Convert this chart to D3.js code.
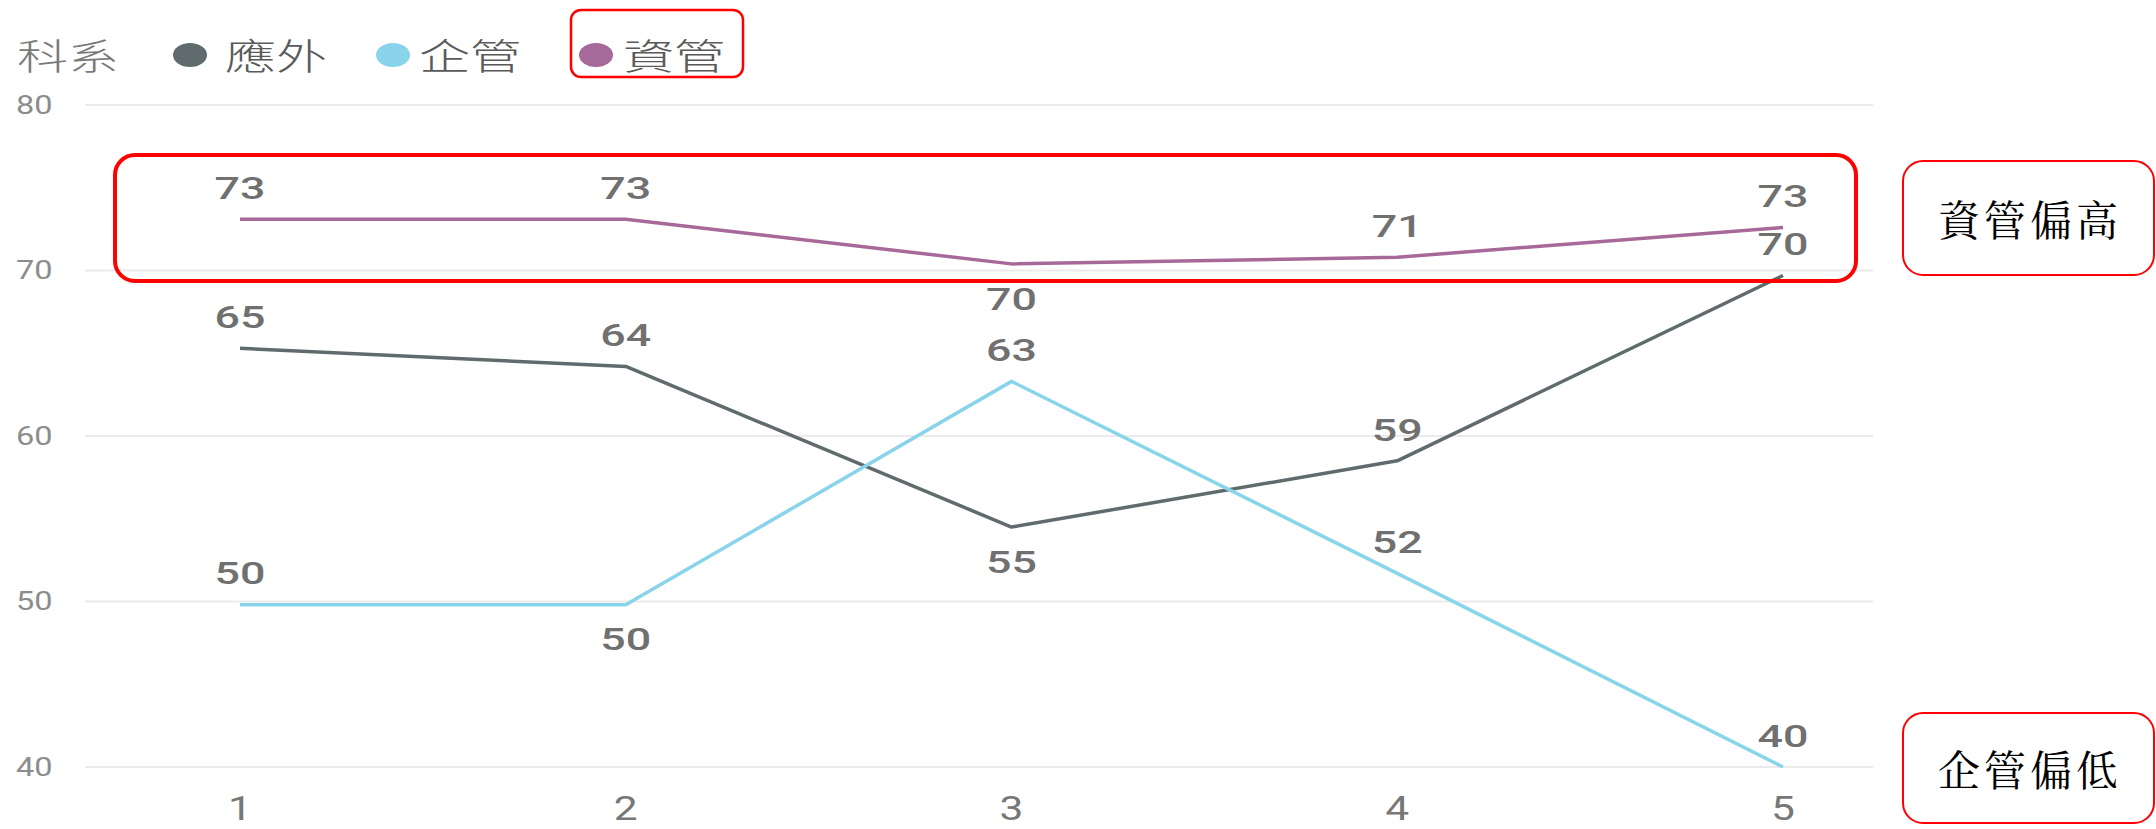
<!DOCTYPE html>
<html>
<head>
<meta charset="utf-8">
<script src="https://cdn.jsdelivr.net/npm/d3@7"></script>
<style>
  html, body { margin: 0; padding: 0; background: #fff; }
  svg { display: block; }
</style>
</head>
<body>
<svg id="chart" width="2156" height="829"></svg>
<script>
// data
const categories = [1, 2, 3, 4, 5];
const seriesNames = ['應外', '企管', '資管'];
const yingWai = [65.3, 64.2, 54.5, 58.5, 69.7];
const qiGuan = [49.8, 49.8, 63.3, 51.7, 40.0];
const ziGuan = [73.1, 73.1, 70.4, 70.8, 72.6];
const yTicks = [40, 50, 60, 70, 80];
const legendTitle = '科系';
const noteHigh = '資管偏高';
const noteLow = '企管偏低';

// where each value label sits, relative to its point
const labelSide = [
  ['up', 'up', 'down', 'up', 'up'],
  ['up', 'down', 'up', 'up', 'up'],
  ['up', 'up', 'down', 'up', 'up']
];

const colors = ['#5F6B6D', '#8AD4EB', '#A66999'];
const seriesValues = [yingWai, qiGuan, ziGuan];

const svg = d3.select('#chart');
const W = 2156, H = 829;
svg.append('rect').attr('width', W).attr('height', H).attr('fill', '#fff');

const plotLeft = 85, plotRight = 1873;

const x = d3.scaleLinear().domain([1, 5]).range([240, 1783]);
const y = d3.scaleLinear().domain([40, 80]).range([767, 105]);

// stretched text, the source image was widened
function stretched(sel, sx) {
  return sel.attr('transform', function () {
    const d = d3.select(this);
    return 'translate(' + d.attr('data-x') + ',' + d.attr('data-y') + ') scale(' + sx + ',1)';
  });
}

// gridlines
svg.append('g')
  .selectAll('line')
  .data(yTicks)
  .enter().append('line')
  .attr('x1', plotLeft)
  .attr('x2', plotRight)
  .attr('y1', d => y(d))
  .attr('y2', d => y(d))
  .attr('stroke', '#ebebeb')
  .attr('stroke-width', 2);

// y tick labels
svg.append('g')
  .selectAll('text')
  .data(yTicks)
  .enter().append('text')
  .attr('data-x', 16)
  .attr('data-y', d => y(d))
  .attr('dominant-baseline', 'central')
  .attr('font-family', 'Roboto, "Open Sans", sans-serif')
  .attr('font-size', 26)
  .attr('fill', '#8c8c8c')
  .text(d => d)
  .call(stretched, 1.25);

// x tick labels
svg.append('g')
  .selectAll('text')
  .data(categories)
  .enter().append('text')
  .attr('data-x', d => x(d))
  .attr('data-y', 820)
  .attr('text-anchor', 'middle')
  .attr('font-family', 'Roboto, "Open Sans", sans-serif')
  .attr('font-size', 34)
  .attr('fill', '#777')
  .text(d => d)
  .call(stretched, 1.25);

// lines
const line = d3.line()
  .x((d, i) => x(categories[i]))
  .y(d => y(d));

svg.append('g')
  .selectAll('path')
  .data(seriesValues)
  .enter().append('path')
  .attr('d', d => line(d))
  .attr('fill', 'none')
  .attr('stroke', (d, i) => colors[i])
  .attr('stroke-width', 3.5)
  .attr('stroke-linejoin', 'round');

// value labels
seriesValues.forEach(function (vals, s) {
  svg.append('g')
    .selectAll('text')
    .data(vals)
    .enter().append('text')
    .attr('data-x', (d, i) => x(categories[i]))
    .attr('data-y', (d, i) => y(d) + (labelSide[s][i] === 'up' ? -31 : 35))
    .attr('text-anchor', 'middle')
    .attr('dominant-baseline', 'central')
    .attr('font-family', 'Roboto, "Open Sans", sans-serif')
    .attr('font-weight', 500)
    .attr('font-size', 32)
    .attr('fill', '#707070')
    .text(d => Math.round(d))
    .call(stretched, 1.4);
});

// legend
const legend = svg.append('g');
legend.append('text')
  .attr('data-x', 17)
  .attr('data-y', 55)
  .attr('dominant-baseline', 'central')
  .attr('font-family', '"Noto Sans CJK TC", sans-serif')
  .attr('font-weight', 300)
  .attr('font-size', 36)
  .attr('fill', '#7a7a7a')
  .text(legendTitle)
  .call(stretched, 1.42);

const legendDotX = [190, 393, 596];
const legendTextX = [225, 419, 623];
legend.selectAll('ellipse')
  .data(seriesNames)
  .enter().append('ellipse')
  .attr('cx', (d, i) => legendDotX[i])
  .attr('cy', 55)
  .attr('rx', 17)
  .attr('ry', 12)
  .attr('fill', (d, i) => colors[i]);

legend.selectAll('text.name')
  .data(seriesNames)
  .enter().append('text')
  .attr('class', 'name')
  .attr('data-x', (d, i) => legendTextX[i])
  .attr('data-y', 55)
  .attr('dominant-baseline', 'central')
  .attr('font-family', '"Noto Sans CJK TC", sans-serif')
  .attr('font-weight', 300)
  .attr('font-size', 36)
  .attr('fill', '#5a5a5a')
  .text(d => d)
  .call(stretched, 1.42);

// red annotation boxes
svg.append('rect')
  .attr('x', 571).attr('y', 10).attr('width', 172).attr('height', 67)
  .attr('rx', 10)
  .attr('fill', 'none').attr('stroke', '#f00').attr('stroke-width', 2.5);

svg.append('rect')
  .attr('x', 115).attr('y', 155).attr('width', 1741).attr('height', 126)
  .attr('rx', 20)
  .attr('fill', 'none').attr('stroke', '#f00').attr('stroke-width', 4);

const notes = [
  { text: noteHigh, y0: 161, y1: 275 },
  { text: noteLow, y0: 713, y1: 823 }
];
const noteG = svg.append('g');
noteG.selectAll('rect')
  .data(notes)
  .enter().append('rect')
  .attr('x', 1903)
  .attr('y', d => d.y0)
  .attr('width', 251)
  .attr('height', d => d.y1 - d.y0)
  .attr('rx', 20)
  .attr('fill', '#fff')
  .attr('stroke', '#f00')
  .attr('stroke-width', 2);

noteG.selectAll('text')
  .data(notes)
  .enter().append('text')
  .attr('x', 2030)
  .attr('y', d => (d.y0 + d.y1) / 2)
  .attr('text-anchor', 'middle')
  .attr('dominant-baseline', 'central')
  .attr('font-family', '"Noto Serif CJK TC", "Noto Sans CJK TC", serif')
  .attr('font-size', 42)
  .attr('letter-spacing', 4)
  .attr('fill', '#000')
  .text(d => d.text);
</script>
</body>
</html>
